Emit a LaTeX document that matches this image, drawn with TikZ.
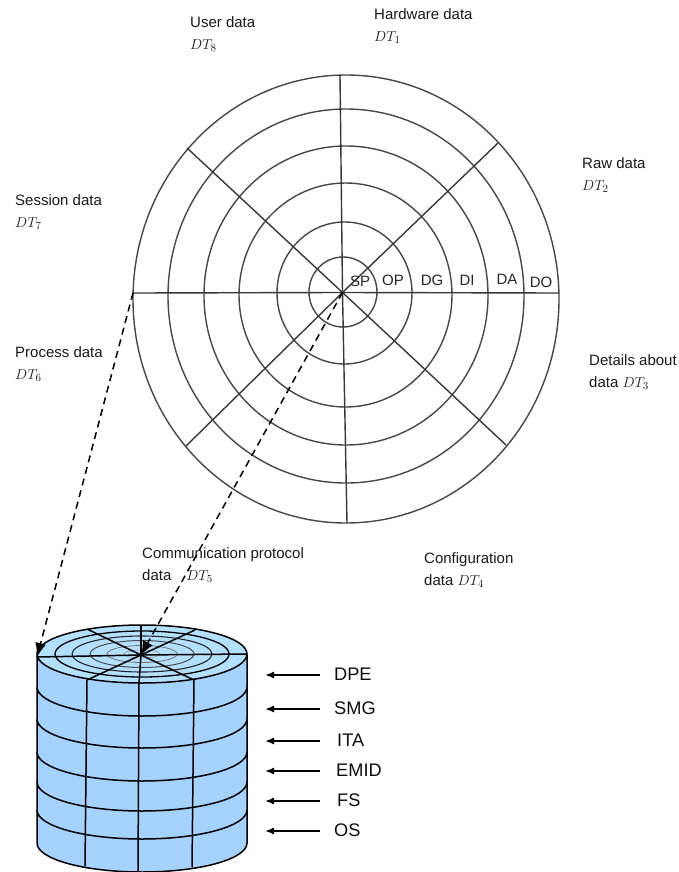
\documentclass[tikz,border=0pt]{standalone}
\usepackage{fontspec}
\setmainfont{Liberation Sans}
\usepackage{amsmath}
\usetikzlibrary{arrows.meta}
\tikzset{
  ring/.style={draw=black!72,line width=1.4pt},
  spoke/.style={draw=black!78,line width=1.4pt},
  lab/.style={font=\fontsize{15}{22}\selectfont,anchor=west,align=left,inner sep=0pt,text=black!90},
  sec/.style={font=\fontsize{15}{17}\selectfont,inner sep=0pt,text=black!85},
  layer/.style={font=\fontsize{18.2}{20}\selectfont,anchor=west,inner sep=0pt,text=black!95},
  dashline/.style={draw=black,line width=1.5pt,dash pattern=on 7pt off 5pt,-{Latex[length=14pt,width=11pt]}},
  layarrow/.style={draw=black,line width=1.5pt,-{Latex[length=9pt,width=7pt]}},
  cyl/.style={draw=black,line width=1.5pt},
}
\definecolor{cylside}{RGB}{166,210,255}
\definecolor{cyltop}{RGB}{180,224,255}
\begin{document}
\begin{tikzpicture}[x=1pt,y=-1pt]
\useasboundingbox (0,0) rectangle (679,872);
% radial chart
\coordinate (c) at (342.5,292.5);
\foreach \cx/\cy/\rx/\ry in {343/292/34/35,344.5/293/67.5/71,345.5/295/106.5/112,346/295.5/142/149.5,346/296/178/187,346/299/213/224}
  \draw[ring] (\cx,\cy) ellipse[x radius=\rx,y radius=\ry];
\coordinate (n) at (340,75);
\coordinate (ne) at (498,143);
\coordinate (e) at (559,293);
\coordinate (se) at (506,445);
\coordinate (s) at (347,523);
\coordinate (sw) at (186,446);
\coordinate (w) at (133,293);
\coordinate (nw) at (187,148);
\foreach \p in {n,ne,e,se,s,sw,w,nw}
  \draw[spoke] (c) -- (\p);
\node[sec] (sp) at (360,281) {SP};
\node[sec] (op) at (393,280) {OP};
\node[sec] (dg) at (432,280) {DG};
\node[sec] (di) at (467,280) {DI};
\node[sec] (da) at (507,279) {DA};
\node[sec] (do) at (541,282) {DO};
% outer labels
\node[lab] (l1) at (374,26) {Hardware data\\$DT_1$};
\node[lab] (l2) at (582,175) {Raw data\\$DT_2$};
\node[lab] (l3) at (589,372) {Details about\\data $DT_3$};
\node[lab] (l4) at (424,570) {Configuration\\data $DT_4$};
\node[lab] (l5) at (142,565) {Communication protocol\\data\quad $DT_5$};
\node[lab] (l6) at (15,364) {Process data\\$DT_6$};
\node[lab] (l7) at (15,212) {Session data\\$DT_7$};
\node[lab] (l8) at (190,34) {User data\\$DT_8$};
% cylinder
\fill[cylside] (37,655) -- (37,843) arc[start angle=180,end angle=0,x radius=105,y radius=29] -- (247,655) -- cycle;
\foreach \y in {687,719,752,782,810}
  \draw[cyl] (37,\y) arc[start angle=180,end angle=0,x radius=105,y radius=29];
\draw[cyl] (37,655) -- (37,843) arc[start angle=180,end angle=0,x radius=105,y radius=29] -- (247,655);
\draw[cyl] (87,680) -- (85,866);
\draw[cyl] (139,683) -- (138,872);
\draw[cyl] (194,680) -- (192,867);
\draw[cyl,fill=cyltop] (142,654) ellipse[x radius=105,y radius=29];
\draw[line width=1.3pt] (142,654) ellipse[x radius=87,y radius=23];
\draw[line width=1.1pt,black!85] (142,654) ellipse[x radius=70,y radius=18];
\draw[line width=1pt,black!70] (142,654) ellipse[x radius=52,y radius=13.5];
\draw[line width=.8pt,black!55] (142,654) ellipse[x radius=35,y radius=8.5];
\draw[line width=.6pt,black!40] (142,654) ellipse[x radius=18,y radius=4];
\coordinate (tc) at (141,655);
\coordinate (tw) at (37,657);
\coordinate (te) at (247,654);
\coordinate (tn) at (141,625);
\coordinate (ts) at (139,683);
\coordinate (tnw) at (87,629);
\coordinate (tne) at (195,630);
\coordinate (tsw) at (87,680);
\coordinate (tse) at (194,680);
\foreach \p in {tw,te,tn,ts,tnw,tne,tsw,tse}
  \draw[cyl] (tc) -- (\p);
% dashed connectors
\draw[dashline] (w) -- (tw);
\draw[dashline] (c) -- (tc);
% layers
\foreach \nm/\txt/\x/\y in {a/DPE/334/674,b/SMG/334/708,c/ITA/337/740,d/EMID/336/770,e/FS/337/800,f/OS/334/830}{
  \node[layer] (t\nm) at (\x,\y) {\txt};
  \coordinate (h\nm) at (320,\y+1);
  \coordinate (k\nm) at (265,\y+1);
  \draw[layarrow] (h\nm) -- (k\nm);
}
\end{tikzpicture}
\end{document}
